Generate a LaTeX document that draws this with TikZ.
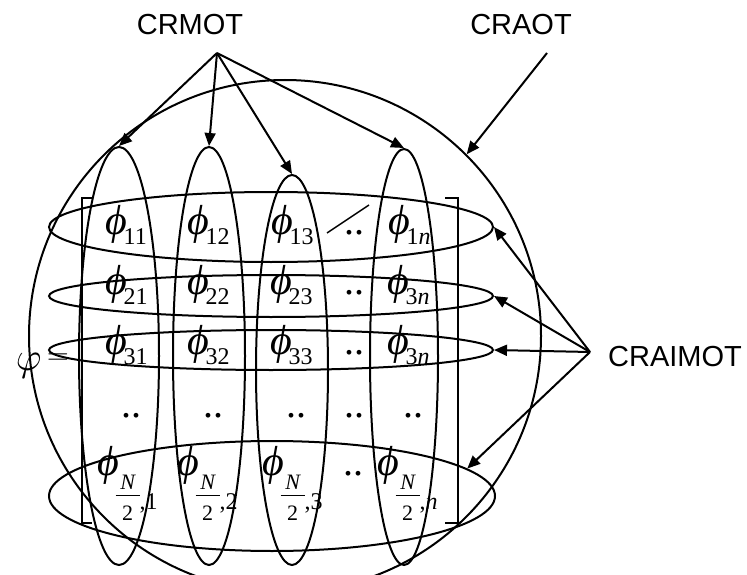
\RequirePackage{fix-cm}
\documentclass[tikz,border=0pt]{standalone}
\usepackage{fontspec}
\usetikzlibrary{shapes.geometric,arrows.meta}
\newfontfamily\labfont{Liberation Sans}
\newfontfamily\serif{Liberation Serif}
\newcommand\phiglyph{\hbox{\serif\itshape ϕ}}
\newcommand\sbf{\serif\fontsize{24}{26}\selectfont}
\newcommand\fbf{\serif\fontsize{22}{24}\selectfont}
\newcommand\Pent[1]{$\phiglyph_{\kern-3pt\hbox{\sbf #1}}$}
\newcommand\fracNtwo{\vbox{\hbox to 24pt{\hss\fbf\itshape N\hss}\kern6pt\hrule height 1.2pt\kern9pt\hbox to 24pt{\hss\fbf 2\hss}}}
\newcommand\Pfr[1]{{\serif\itshape ϕ}\kern-3pt\raisebox{-45pt}{\fracNtwo}\raisebox{-34pt}{\sbf ,#1}}
\newcommand\Dots{{\serif ..}}
\begin{document}
\begin{tikzpicture}[x=1pt,y=-1pt,line width=2pt,
  >={Triangle[length=13pt,width=11pt]},
  lbl/.style={font=\labfont\fontsize{29}{32}\selectfont,inner sep=0},
  ent/.style={anchor=base west,inner sep=0,font=\fontsize{42}{46}\selectfont},
  dotst/.style={anchor=base west,inner sep=0,font=\fontsize{40}{44}\selectfont},
  ring/.style={draw,ellipse,inner sep=0},
  brk/.style={line width=2.6pt}]
\useasboundingbox (0,0) rectangle (747,575);
% big circle
\node[draw,circle,minimum size=512pt,inner sep=0] (big) at (285,336) {};
% bracket
\draw[brk] (92,198) -- (82,198) -- (82,523) -- (92,523);
\draw[brk] (445,198) -- (458,198) -- (458,523) -- (445,523);
% row ellipses
\node[ring,minimum width=444pt,minimum height=70pt] (row1) at (271,227) {};
\node[ring,minimum width=444pt,minimum height=42pt] (row2) at (271,296) {};
\node[ring,minimum width=444pt,minimum height=40pt] (row3) at (271,350) {};
\node[ring,minimum width=446pt,minimum height=110pt] (row4) at (272,496) {};
% column ellipses
\node[ring,minimum width=80pt,minimum height=418pt] (col1) at (119,356) {};
\node[ring,minimum width=72pt,minimum height=418pt] (col2) at (209,356) {};
\node[ring,minimum width=72pt,minimum height=390pt] (col3) at (292,370) {};
\node[ring,minimum width=68pt,minimum height=416pt] (col4) at (404,357) {};
% left side
\node[dotst] (phiL) at (15,370) {$\varphi$};
\node[inner sep=0,font=\fontsize{30}{32}\selectfont] (eq) at (58,359) {$=$};
% entries row 1
\node[ent] (e11) at (104,234) {\Pent{11}};
\node[ent] (e12) at (186,234) {\Pent{12}};
\node[ent] (e13) at (270,234) {\Pent{13}};
\node[dotst] (e14) at (343,234) {\Dots};
\node[ent] (e15) at (387,234) {\Pent{1\itshape n}};
\draw[line width=1.5pt] (327,233) -- (369,205);
% row 2
\node[ent] (e21) at (104,294) {\Pent{21}};
\node[ent] (e22) at (186,294) {\Pent{22}};
\node[ent] (e23) at (269,294) {\Pent{23}};
\node[dotst] (e24) at (343,294) {\Dots};
\node[ent] (e25) at (386,294) {\Pent{3\itshape n}};
% row 3
\node[ent] (e31) at (104,354) {\Pent{31}};
\node[ent] (e32) at (186,354) {\Pent{32}};
\node[ent] (e33) at (269,354) {\Pent{33}};
\node[dotst] (e34) at (343,354) {\Dots};
\node[ent] (e35) at (386,354) {\Pent{3\itshape n}};
% row 4 dots
\node[dotst] (e41) at (120,417) {\Dots};
\node[dotst] (e42) at (202,417) {\Dots};
\node[dotst] (e43) at (285,417) {\Dots};
\node[dotst] (e44) at (343,417) {\Dots};
\node[dotst] (e45) at (402,417) {\Dots};
% row 5
\node[ent] (e51) at (96,475) {\Pfr{1}};
\node[ent] (e52) at (176,475) {\Pfr{2}};
\node[ent] (e53) at (261,475) {\Pfr{3}};
\node[dotst] (e54) at (342,475) {\Dots};
\node[ent] (e55) at (376,475) {\Pfr{\itshape n}};
% labels
\node[lbl] (crmot) at (190,25) {CRMOT};
\node[lbl] (craot) at (521,25) {CRAOT};
\node[lbl] (craimot) at (675,357) {CRAIMOT};
\coordinate (pm) at (217,53);
\coordinate (pa) at (547,53);
\coordinate (pi) at (590,352);
% arrows
\draw[->] (pm) -- (col1.north);
\draw[->] (pm) -- (col2.north);
\draw[->] (pm) -- (col3.north);
\draw[->] (pm) -- (col4.north);
\draw[->] (pa) -- (big.45);
\draw[->] (pi) -- (row1.east);
\draw[->] (pi) -- (row2.east);
\draw[->] (pi) -- (row3.east);
\draw[->] (pi) -- (row4.8);
\end{tikzpicture}
\end{document}
